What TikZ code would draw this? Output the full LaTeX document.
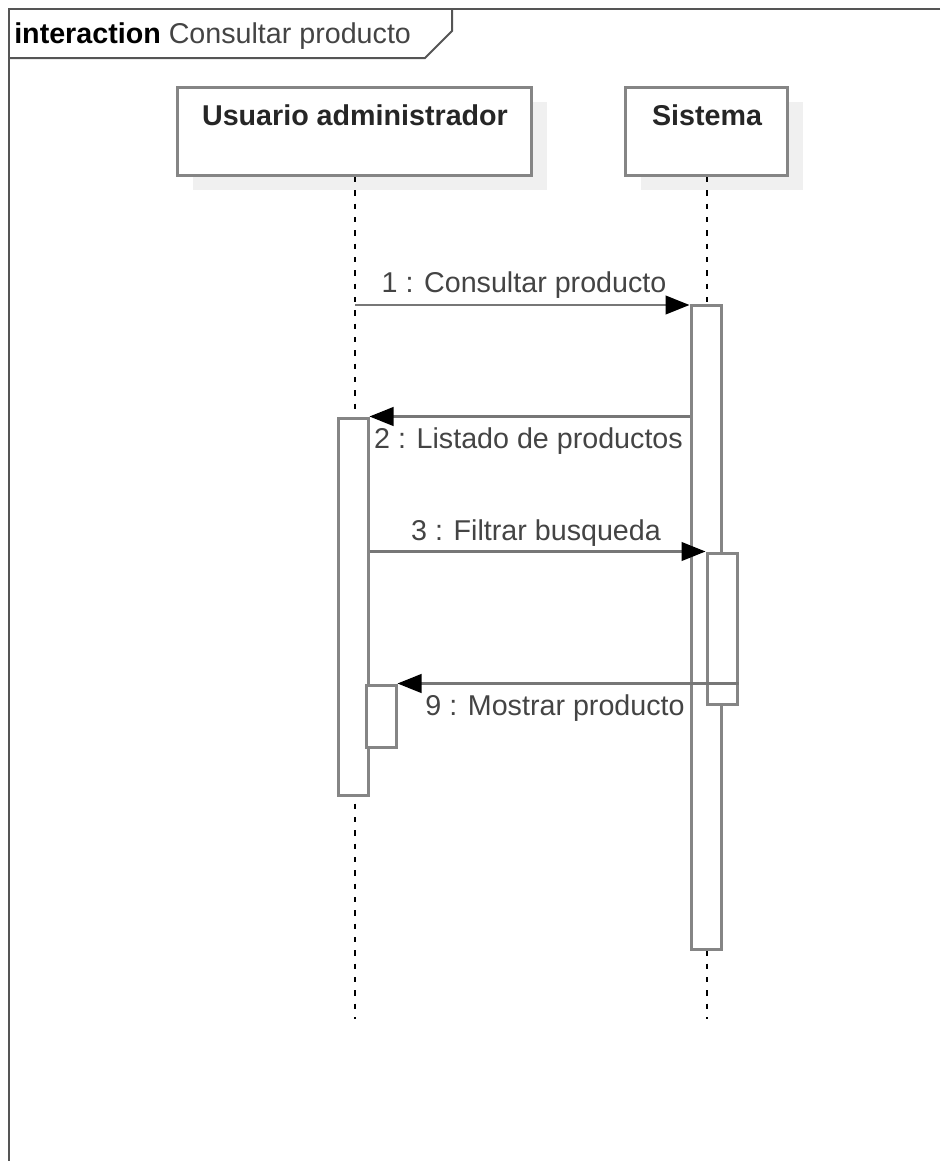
\documentclass[tikz,border=0pt]{standalone}
\usepackage{fontspec}
\setmainfont{Liberation Sans}
\usetikzlibrary{arrows.meta}
\definecolor{framegray}{HTML}{555555}
\definecolor{boxgray}{HTML}{858585}
\definecolor{msggray}{HTML}{777777}
\definecolor{textgray}{HTML}{444444}
\definecolor{shadowgray}{HTML}{F0F0F0}
\tikzset{
  lifebox/.style={draw=boxgray, line width=2.25pt, fill=white, minimum height=66pt, inner sep=0pt},
  shadowbox/.style={fill=shadowgray, draw=none, minimum height=66pt, inner sep=0pt},
  actbox/.style={draw=boxgray, line width=2.25pt, fill=white, minimum width=22.5pt, inner sep=0pt},
  titletext/.style={font=\fontsize{21.5}{24}\selectfont\bfseries, text=black!85, anchor=base, inner sep=0pt},
  msgtext/.style={font=\fontsize{21.5}{24}\selectfont, text=textgray, anchor=base, inner sep=0pt},
  lifeline/.style={black, line width=1.5pt, dash pattern=on 4pt off 6pt},
  msg/.style={draw=msggray, line width=1.6pt, -{Triangle[length=18pt,width=14pt,fill=black,color=black]}},
  framestyle/.style={draw=framegray, line width=1.5pt}
}
\begin{document}
\begin{tikzpicture}[x=0.75pt,y=-0.75pt]
\useasboundingbox (0,0) rectangle (940,1161);
% frame
\draw[framestyle] (940,8.5) -- (8.5,8.5) -- (8.5,1161);
\draw[framestyle] (8.5,58) -- (425,58) -- (452,31) -- (452,8.5);
\node[anchor=base west, inner sep=0pt, font=\fontsize{21.5}{24}\selectfont] (ftitle) at (14,43) {\textbf{interaction} \textcolor{textgray}{Consultar producto}};
% shadows
\node[shadowbox, minimum width=265.5pt] (sh1) at (370,145.5) {};
\node[shadowbox, minimum width=121.5pt] (sh2) at (722,145.5) {};
% lifeline boxes
\node[lifebox, minimum width=265.5pt] (user) at (354,131.5) {};
\node[lifebox, minimum width=121.5pt] (sys) at (706,131.5) {};
\node[titletext] (usert) at (355,125) {Usuario administrador};
\node[titletext] (syst) at (707,125) {Sistema};
% lifelines
\coordinate (userend) at (355,1019);
\coordinate (sysend) at (707,1019);
\draw[lifeline] (user.south -| userend) -- (userend);
\draw[lifeline] (sys.south -| sysend) -- (sysend);
% activations
\node[actbox, minimum height=483pt] (a1) at (706,627) {};
\node[actbox, minimum height=282.75pt] (a2) at (353,606.5) {};
\node[actbox, minimum height=113.25pt] (a3) at (722,628.5) {};
\node[actbox, minimum height=46.5pt] (a4) at (381,716) {};
% messages
\coordinate (m1s) at (355,305);
\draw[msg] (m1s) -- (m1s -| a1.west);
\node[msgtext] (l1) at (524,292) {1 : Consultar producto};
\draw[msg] (a2.north east -| a1.west) -- (a2.north east);
\node[msgtext] (l2) at (528.5,448) {2 : Listado de productos};
\draw[msg] (a3.north west -| a2.east) -- (a3.north west);
\node[msgtext] (l3) at (536,540) {3 : Filtrar busqueda};
\draw[msg] (a4.north east -| a3.east) -- (a4.north east);
\node[msgtext] (l9) at (555,715) {9 : Mostrar producto};
\end{tikzpicture}
\end{document}
